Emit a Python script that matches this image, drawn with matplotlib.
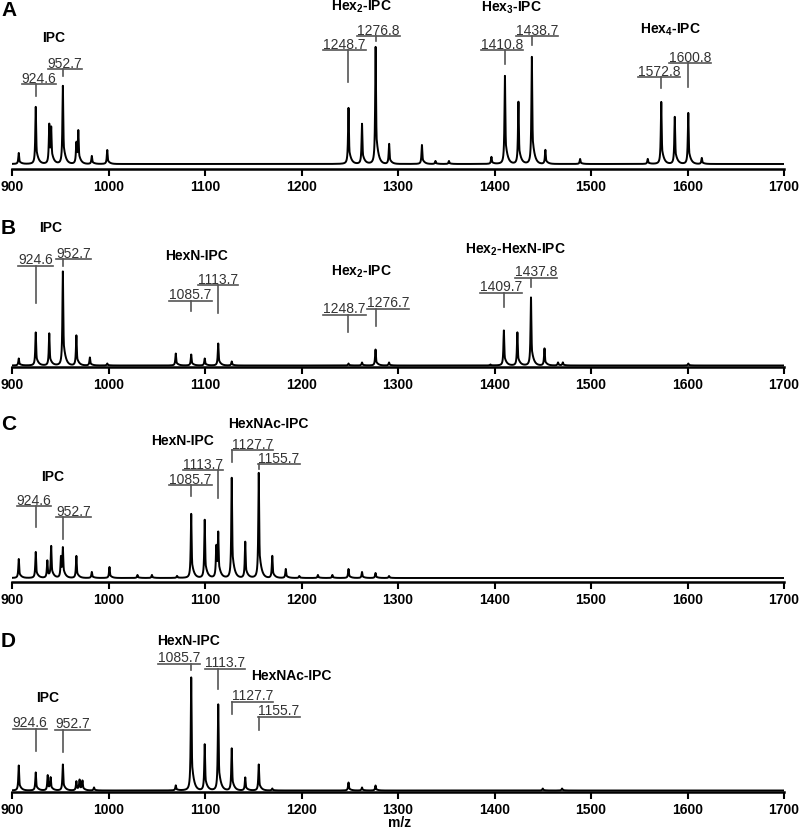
import numpy as np
import matplotlib
matplotlib.use("Agg")
import matplotlib.pyplot as plt

plt.rcParams['font.family'] = ['Liberation Sans', 'DejaVu Sans']
plt.rcParams['mathtext.fontset'] = 'custom'
plt.rcParams['mathtext.bf'] = 'Liberation Sans:bold'
plt.rcParams['mathtext.rm'] = 'Liberation Sans'

# peak lists (m/z, height in px above baseline)
a_mz = [907, 924.6, 938.6, 940.6, 952.7, 966.7, 968.7, 982.7, 998.7, 1248.7, 1262.7,
        1276.8, 1290.8, 1324.8, 1338.8, 1352.8, 1396.8, 1410.8, 1424.8, 1438.7, 1452.7,
        1488.7, 1558.8, 1572.8, 1586.8, 1600.8, 1614.8]
a_h = [11, 57, 38, 32, 78, 20, 31, 8, 14, 56, 40, 117, 20, 19, 3, 3, 7, 88, 62, 107, 14,
       5, 5, 62, 47, 51, 6]

b_mz = [907, 924.6, 938.6, 952.7, 966.7, 980.7, 998.7, 1069.7, 1085.7, 1099.7, 1113.7,
        1127.7, 1248.7, 1262.7, 1276.7, 1290.7, 1395.7, 1409.7, 1423.7, 1437.8, 1451.8,
        1465.8, 1470.8, 1600.8]
b_h = [7, 33, 32, 94, 30, 8, 2, 12, 11, 7, 22, 4, 2, 3, 16, 3, 1, 35, 33, 68, 17, 3, 3, 2]

c_mz = [907, 924.6, 936.6, 940.6, 950.7, 952.7, 966.7, 982.7, 1001, 1030, 1045, 1071,
        1085.7, 1099.7, 1111.7, 1113.7, 1127.7, 1141.7, 1155.7, 1169.7, 1183.7, 1197.7,
        1217, 1232, 1248.7, 1262.7, 1276.7, 1290.7]
c_h = [19, 26, 17, 31, 20, 28, 22, 6, 11, 3, 3, 2, 64, 58, 30, 42, 100, 36, 105, 22, 9,
       2, 3, 3, 9, 6, 5, 2]

d_mz = [907, 924.6, 937, 940, 952.7, 966.7, 970, 973, 985, 1069.7, 1085.7, 1099.7,
        1113.7, 1127.7, 1141.7, 1155.7, 1169.7, 1248.7, 1262.7, 1276.7, 1450, 1470]
d_h = [25, 18, 15, 12, 26, 9, 10, 9, 3, 5, 113, 46, 86, 42, 13, 26, 2, 8, 3, 5, 2, 2]

# annotations: label, peak m/z, text left m/z, underline height, tick bottom
a_ann = [("924.6", 924.6, 910.0, 80, 68), ("952.7", 952.7, 937.0, 95, 88),
         ("1248.7", 1248.7, 1222.6, 114, 82), ("1276.8", 1276.8, 1257.9, 128, 123),
         ("1410.8", 1410.8, 1386.0, 114, 100), ("1438.7", 1438.7, 1422.3, 128, 119),
         ("1572.8", 1572.8, 1548.4, 87, 76), ("1600.8", 1600.8, 1580.5, 101, 77)]
b_ann = [("924.6", 924.6, 906.6, 100, 63), ("952.7", 952.7, 945.6, 107, 100),
         ("1085.7", 1085.7, 1063.0, 65, 55), ("1113.7", 1113.7, 1092.7, 81, 53),
         ("1248.7", 1248.7, 1222.6, 51, 34), ("1276.7", 1276.7, 1267.6, 57, 40),
         ("1409.7", 1409.7, 1385.0, 73, 59), ("1437.8", 1437.8, 1421.2, 88, 79)]
c_ann = [("924.6", 924.6, 904.8, 72, 51), ("952.7", 952.7, 945.6, 61, 39),
         ("1085.7", 1085.7, 1063.0, 93, 82), ("1113.7", 1113.7, 1076.9, 108, 80),
         ("1127.7", 1127.7, 1127.6, 128, 116), ("1155.7", 1155.7, 1155.2, 114, 109)]
d_ann = [("924.6", 924.6, 900.7, 62, 40), ("952.7", 952.7, 944.6, 61, 39),
         ("1085.7", 1085.7, 1051.0, 127, 121), ("1113.7", 1113.7, 1100.0, 122, 102),
         ("1127.7", 1127.7, 1127.6, 89, 77), ("1155.7", 1155.7, 1155.2, 74, 61)]

# group labels: text, center m/z, height
a_grp = [("IPC", 943, 127), ("Hex$_\\mathbf{2}$-IPC", 1262, 158),
         ("Hex$_\\mathbf{3}$-IPC", 1418, 157), ("Hex$_\\mathbf{4}$-IPC", 1582, 135)]
b_grp = [("IPC", 940, 138), ("HexN-IPC", 1091, 110), ("Hex$_\\mathbf{2}$-IPC", 1262, 95),
         ("Hex$_\\mathbf{2}$-HexN-IPC", 1422, 117)]
c_grp = [("IPC", 942, 102), ("HexN-IPC", 1077, 138), ("HexNAc-IPC", 1166, 155)]
d_grp = [("IPC", 937, 93), ("HexN-IPC", 1083, 150), ("HexNAc-IPC", 1189, 115)]

# letter, peaks, heights, annotations, groups, axes top px, axis px, baseline offset, letter y px
panels = [
    ("A", a_mz, a_h, a_ann, a_grp, 0, 170, 5, 10),
    ("B", b_mz, b_h, b_ann, b_grp, 200, 368, 1.5, 229),
    ("C", c_mz, c_h, c_ann, c_grp, 400, 583, 4, 425),
    ("D", d_mz, d_h, d_ann, d_grp, 605, 793, 1.5, 642),
]

W, H = 800, 829
fig = plt.figure(figsize=(W / 100, H / 100), dpi=100)
x = np.arange(900, 1700, 0.05)


def spectrum(mz, h):
    y = np.zeros_like(x)
    for m, hh in zip(mz, h):
        prof = 0.55 ** 2 / ((x - m) ** 2 + 0.55 ** 2)
        tail = np.where(x > m, np.exp(-(x - m) / 2.2), 0) * 0.35
        y += hh * np.maximum(prof, tail)
    return y


axes = []
for letter, mz, h, ann, grp, top, bot, off, ly in panels:
    ax = fig.add_axes([12 / W, 1 - bot / H, 772 / W, (bot - top) / H])
    ax.set_xlim(900, 1700)
    ax.set_ylim(-off, (bot - top) - off)
    ax.plot(x, spectrum(mz, h), color='black', lw=1.4)
    for s in ['left', 'right', 'top']:
        ax.spines[s].set_visible(False)
    ax.spines['bottom'].set_linewidth(1.8)
    ax.set_yticks([])
    ax.set_xticks(np.arange(900, 1701, 100))
    ax.tick_params(axis='x', length=5, width=1.5, pad=2.5, labelsize=10)
    for lab in ax.get_xticklabels():
        lab.set_fontweight('bold')
    fig.text(1 / W, 1 - ly / H, letter, fontsize=15, fontweight='bold', va='center', ha='left')
    for txt, cx, hy in grp:
        ax.text(cx, hy, txt, fontsize=10, fontweight='bold', ha='center', va='center')
    axes.append((ax, ann))

fig.canvas.draw()
r = fig.canvas.get_renderer()
for ax, ann in axes:
    inv = ax.transData.inverted()
    for lab, pk, left, u, tb in ann:
        t = ax.text(left, u + 2, lab, fontsize=10, color='#333333', ha='left', va='baseline')
        bb = t.get_window_extent(r)
        x1 = inv.transform((bb.x1, 0))[0]
        ax.plot([left, x1], [u, u], color='#555555', lw=1.2)
        ax.plot([pk, pk], [u, tb], color='#555555', lw=1.2)

fig.text(400 / W, 1 - 823 / H, "m/z", fontsize=10, fontweight='bold', ha='center', va='center')

fig.savefig("out.png", dpi=100)
